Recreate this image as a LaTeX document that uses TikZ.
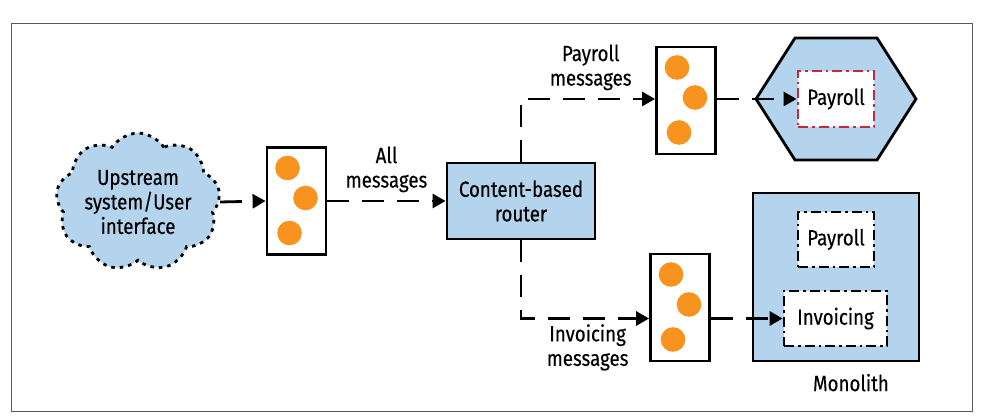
\documentclass[tikz,border=0pt]{standalone}
\usepackage{fontspec}
\setmainfont{Fira Sans}[FakeStretch=0.85, FakeBold=0.3]
\usetikzlibrary{shapes.symbols,arrows.meta}

\definecolor{svcblue}{HTML}{B3D4EC}
\definecolor{msgorange}{HTML}{F7931E}
\definecolor{ctxred}{HTML}{C8283C}

\tikzset{
    txt/.style={font=\fontsize{22}{24.5}\selectfont, align=center},
    flow/.style={line width=2.8pt, dash pattern=on 22pt off 13pt,
        -{Triangle[length=13pt,width=14pt]}},
    queue/.style={draw, line width=2.8pt, fill=white,
        minimum width=59pt, minimum height=107pt, inner sep=0pt},
    svcbox/.style={draw, line width=2.8pt, fill=svcblue, inner sep=0pt},
    ctxbox/.style={draw, line width=2.8pt, fill=white, inner sep=0pt,
        dash pattern=on 10pt off 4pt on 2.5pt off 4pt, txt},
    msgdot/.style={fill=msgorange},
}

\begin{document}
\begin{tikzpicture}[x=1pt, y=-1pt]

    \useasboundingbox (0,0) rectangle (982,419);
    \draw[gray!70!black, line width=0.9pt] (11,23.5) rectangle (972,411);

    %% Upstream system
    \node[cloud, cloud puffs=9, cloud puff arc=115, aspect=1.3,
        fill=svcblue, draw, line width=2.8pt, dash pattern=on 3.5pt off 5pt,
        minimum width=148pt, minimum height=120pt, inner sep=0pt, txt]
        (upstream) at (138,202) {Upstream\\system/User\\interface};

    %% Queues
    \node[queue] (allq) at (296.5,201) {};
    \node[queue] (payq) at (686,100.5) {};
    \node[queue] (invq) at (680,307.5) {};
    \foreach \q in {allq, payq, invq} {
        \foreach \dx/\dy in {-9/-33, 9/-3, -7/32}
            \fill[msgdot] (\q.center) ++(\dx,\dy) circle (12.3);
    }

    %% Router
    \node[svcbox, minimum width=148pt, minimum height=76pt, txt]
        (router) at (521,201) {Content-based\\router};

    %% Payroll service
    \draw[svcbox] (756,99) -- (795,38) -- (877,38) -- (916,99)
        -- (877,160) -- (795,160) -- cycle;
    \node[ctxbox, draw=ctxred, minimum width=76pt, minimum height=56pt]
        (payroll) at (836,99) {Payroll};

    %% Monolith
    \node[svcbox, minimum width=166pt, minimum height=168pt]
        (monolith) at (836,277) {};
    \node[txt, anchor=north east] at (monolith.south east) [xshift=-28pt, yshift=-8pt] {Monolith};
    \node[ctxbox, minimum width=76pt, minimum height=55pt]
        (oldpayroll) at (836,239.5) {Payroll};
    \node[ctxbox, minimum width=103pt, minimum height=55pt]
        (invoicing) at (835.5,318.5) {Invoicing};

    %% Message flows
    \draw[flow] (upstream.east) -- (allq.west);
    \draw[flow] (allq.east) -- node[txt, above, yshift=4pt] {All\\messages} (router.west);
    \draw[flow] (router.north) |- node[txt, above, pos=0.76, yshift=4pt] {Payroll\\messages} (payq.west |- payroll.west);
    \draw[flow] (router.south) |- node[txt, below, pos=0.76, yshift=-1pt] {Invoicing\\messages} (invq.west |- invoicing.west);
    \draw[flow] (payq.east |- payroll.west) -- (payroll.west);
    \draw[flow] (invq.east |- invoicing.west) -- (invoicing.west);

\end{tikzpicture}
\end{document}
